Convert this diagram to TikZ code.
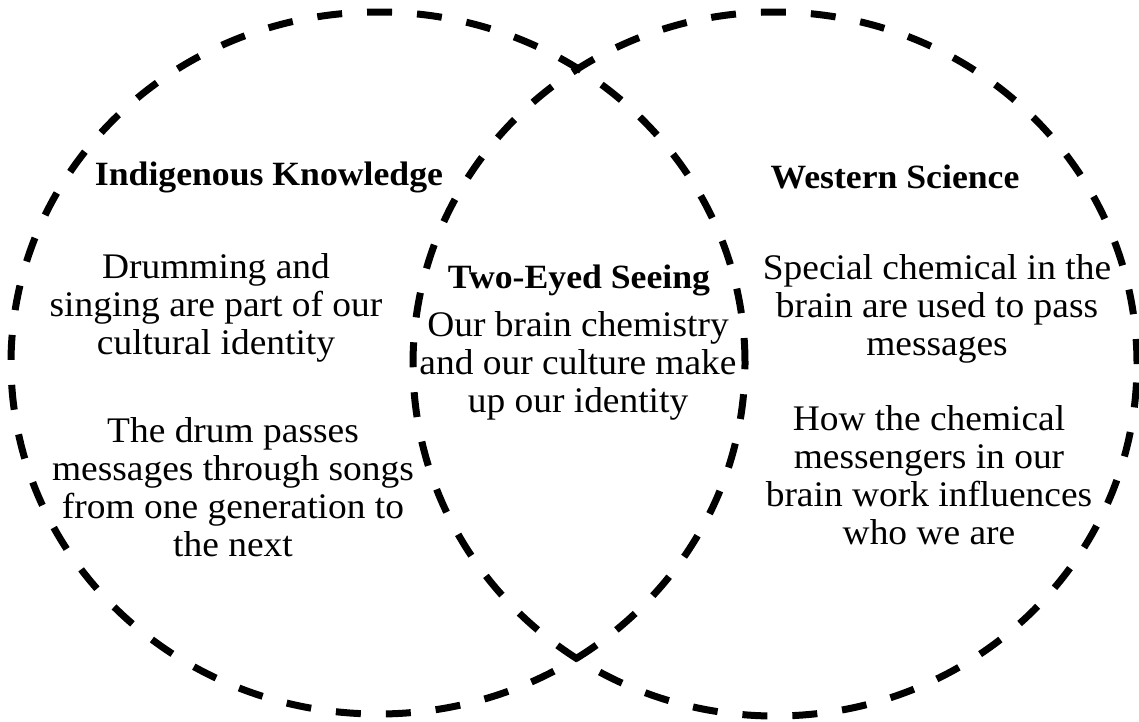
\documentclass[tikz,border=0pt]{standalone}
\usepackage{fontspec}
\setmainfont{Liberation Serif}
\newfontfamily\bodyfont[FakeStretch=1.04]{Liberation Serif}
\newfontfamily\headfont[FakeStretch=1.05]{Liberation Serif Bold}
\begin{document}
\begin{tikzpicture}[x=1pt,y=-1pt,
  ring/.style={line width=7pt, dash pattern=on 25pt off 25pt},
  body/.style={align=center, inner sep=0pt, font=\bodyfont\fontsize{36}{38}\selectfont},
  head/.style={inner sep=0pt, font=\headfont\fontsize{34}{38}\selectfont}]
\useasboundingbox (0,0) rectangle (1139,721);
\draw[ring] (378,363) ellipse [x radius=367pt, y radius=351pt];
\draw[ring] (775,364) ellipse [x radius=362pt, y radius=352pt];
\node[head] (ik) at (269,177) {Indigenous Knowledge};
\node[head] (ws) at (895,177) {Western Science};
\node[head] (tes) at (579,280) {Two-Eyed Seeing};
\node[body] (ik1) at (216,308) {Drumming and\\singing are part of our\\cultural identity};
\node[body] (ik2) at (233,487) {The drum passes\\messages through songs\\from one generation to\\the next};
\node[body] (tes1) at (578,366) {Our brain chemistry\\and our culture make\\up our identity};
\node[body] (ws1) at (937,309) {Special chemical in the\\brain are used to pass\\messages};
\node[body] (ws2) at (929,475) {How the chemical\\messengers in our\\brain work influences\\who we are};
\end{tikzpicture}
\end{document}
